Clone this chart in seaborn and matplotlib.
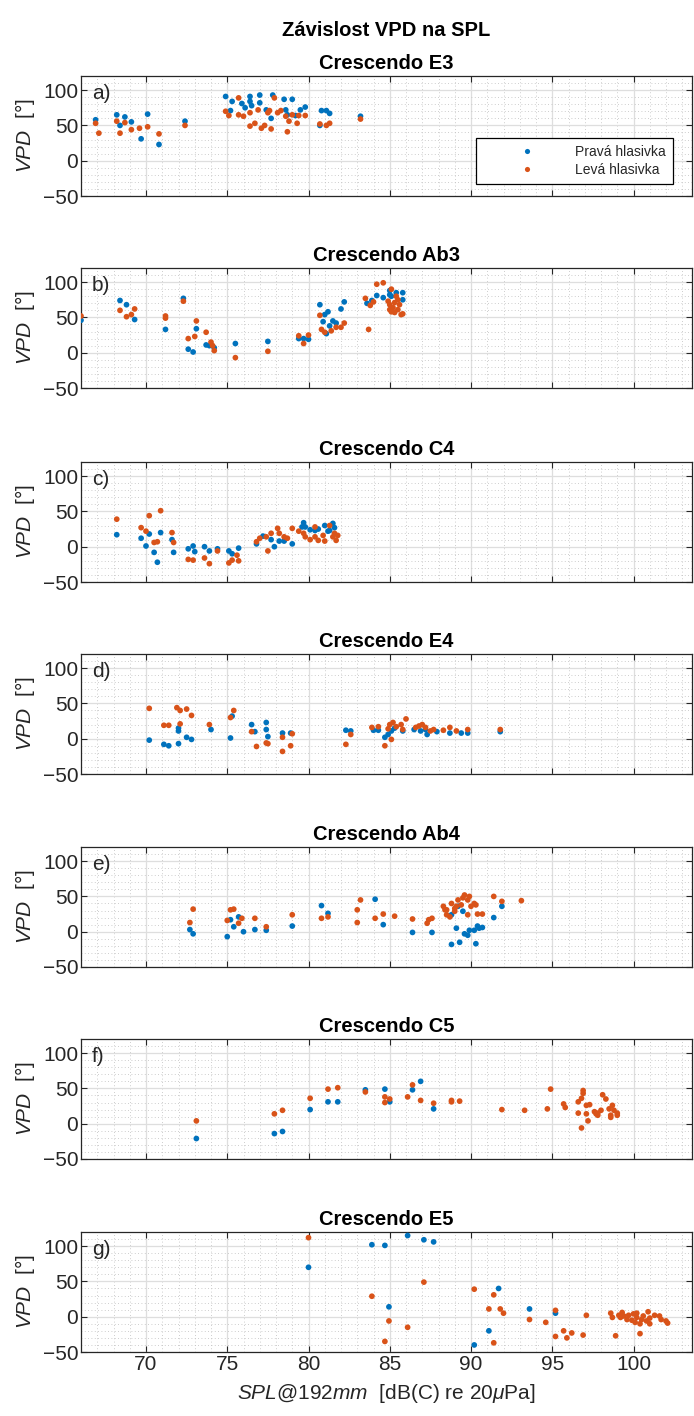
import matplotlib
matplotlib.use("Agg")
import numpy as np
import pandas as pd
import seaborn as sns
import matplotlib.pyplot as plt
from matplotlib.ticker import MultipleLocator

# ---------------- data (SPL [dB], VPD [deg]) ----------------
panels = ["a", "b", "c", "d", "e", "f", "g"]
titles = ["Crescendo E3", "Crescendo Ab3", "Crescendo C4", "Crescendo E4",
          "Crescendo Ab4", "Crescendo C5", "Crescendo E5"]
series_names = ["Pravá hlasivka", "Levá hlasivka"]
x_ticks = [70, 75, 80, 85, 90, 95, 100]
y_ticks = [-50, 0, 50, 100]

a_prava = [(66.9, 58), (68.2, 65), (68.4, 50), (68.7, 62), (69.1, 55), (69.7, 31), (70.1, 66),
           (70.8, 23), (72.4, 56), (74.9, 91), (75.3, 84), (75.2, 71), (75.9, 81), (76.1, 75),
           (76.4, 91), (76.4, 84), (76.5, 78), (77.0, 93), (77.0, 82), (77.4, 72), (77.8, 93),
           (77.7, 60), (78.5, 87), (78.6, 72), (79.0, 87), (78.7, 65), (79.2, 64), (79.5, 72),
           (79.8, 76), (80.8, 71), (81.1, 71), (81.3, 67), (80.7, 50), (83.2, 63)]
a_leva = [(66.9, 53), (67.1, 39), (68.2, 56), (68.4, 39), (68.7, 54), (69.1, 44), (69.6, 46),
          (70.1, 48), (70.8, 38), (72.4, 50), (74.9, 70), (75.1, 64), (75.7, 89), (75.7, 65),
          (76.0, 63), (76.4, 68), (76.4, 49), (76.7, 53), (76.9, 72), (77.1, 46), (77.3, 50),
          (77.5, 68), (77.7, 45), (77.9, 89), (78.3, 71), (78.6, 63), (78.8, 56), (79.0, 65),
          (79.3, 53), (79.4, 64), (79.8, 64), (78.7, 41), (80.7, 52), (81.1, 50), (81.3, 53),
          (83.2, 59), (77.6, 71), (78.1, 68)]

b_prava = [(66.0, 46), (68.4, 74), (68.8, 68), (69.3, 47), (71.2, 33), (72.3, 77), (72.6, 5),
           (72.9, 1), (73.1, 34), (73.7, 11), (73.9, 10), (74.2, 7), (75.5, 13), (77.5, 16),
           (79.4, 20), (79.7, 20), (80.0, 19), (80.7, 68), (81.0, 54), (81.2, 58), (81.1, 27),
           (81.3, 38), (81.5, 45), (81.7, 42), (82.0, 62), (82.2, 72), (80.9, 44), (83.6, 70),
           (84.2, 81), (84.6, 78), (85.0, 88), (85.1, 80), (85.4, 85), (85.8, 85), (85.8, 75),
           (85.0, 82), (83.9, 74)]
b_leva = [(66.0, 52), (68.4, 60), (68.8, 51), (69.1, 54), (69.3, 62), (71.2, 52), (71.2, 49),
          (72.3, 73), (72.6, 20), (73.0, 23), (73.1, 45), (73.7, 29), (74.0, 15), (74.1, 10),
          (74.2, 3), (75.5, -7), (77.5, 2), (79.4, 24), (79.7, 13), (80.0, 25), (80.7, 53),
          (80.8, 33), (81.0, 29), (81.4, 31), (81.7, 36), (82.0, 36), (82.2, 42), (83.5, 77),
          (83.7, 33), (83.8, 67), (84.0, 72), (84.2, 97), (84.6, 99), (84.9, 73), (85.1, 90),
          (85.0, 61), (85.3, 57), (85.4, 80), (85.5, 61), (85.6, 68), (85.7, 54), (85.8, 55),
          (85.0, 68), (85.3, 71), (85.2, 64), (85.5, 75), (85.1, 58)]

c_prava = [(68.2, 17), (69.7, 12), (70.0, 1), (70.2, 18), (70.5, -8), (70.7, -22), (70.9, 20),
           (71.6, 10), (71.7, -8), (72.6, -3), (72.9, 1), (73.0, -7), (73.6, 0), (73.9, -6),
           (74.4, -3), (75.1, -6), (75.3, -10), (75.7, -2), (76.8, 4), (77.2, 15), (77.9, 0),
           (78.5, 8), (79.0, 4), (79.6, 28), (79.7, 34), (80.1, 24), (80.4, 23), (80.6, 25),
           (81.0, 30), (81.3, 23), (81.5, 33), (81.2, 22), (81.6, 27), (79.8, 28), (78.2, 8),
           (77.7, 10)]
c_leva = [(68.2, 39), (69.7, 27), (70.0, 22), (70.2, 44), (70.5, 6), (70.7, 7), (70.9, 51),
          (71.6, 20), (71.7, 6), (72.6, -18), (72.9, -19), (73.6, -16), (73.9, -24), (74.4, -6),
          (75.1, -23), (75.3, -19), (75.6, -12), (75.7, -20), (76.8, 7), (77.0, 12), (77.4, 14),
          (77.5, -6), (77.7, 19), (78.1, 26), (78.2, 19), (78.5, 14), (78.7, 12), (79.0, 26),
          (79.4, 22), (79.7, 19), (79.8, 14), (80.1, 10), (80.4, 14), (80.4, 28), (80.6, 9),
          (80.9, 16), (81.0, 8), (81.3, 30), (81.5, 14), (81.6, 19), (81.7, 9), (81.8, 16)]

d_prava = [(70.2, -2), (71.1, -8), (71.4, -10), (72.0, 15), (72.0, 11), (72.0, -7), (72.5, 2),
           (72.8, -1), (74.0, 13), (75.2, 1), (75.3, 32), (76.5, 20), (76.7, 10), (77.4, 23),
           (77.4, 13), (77.5, 3), (78.4, 8), (78.9, 8), (82.3, 12), (82.6, 11), (84.0, 12),
           (84.3, 12), (84.7, 2), (84.9, 6), (85.1, 11), (85.3, 15), (85.8, 11), (86.5, 13),
           (86.9, 11), (87.2, 13), (87.9, 10), (88.7, 8), (89.4, 8), (89.8, 8), (91.8, 10),
           (87.3, 6)]
d_leva = [(70.2, 43), (71.1, 19), (71.4, 19), (71.9, 44), (72.1, 40), (72.1, 21), (72.5, 42),
          (72.8, 33), (73.9, 20), (75.2, 30), (75.4, 40), (76.5, 10), (76.8, -11), (77.4, -6),
          (77.5, -7), (78.4, -18), (78.4, 2), (78.9, -10), (79.0, 7), (82.3, -8), (82.6, 6),
          (83.9, 16), (84.3, 17), (84.7, -10), (84.9, 14), (85.0, 20), (85.1, -1), (85.2, 23),
          (85.4, 17), (85.7, 20), (85.8, 13), (86.0, 28), (86.6, 16), (86.8, 18), (87.0, 20),
          (87.2, 16), (87.5, 11), (87.7, 13), (88.3, 12), (88.7, 16), (89.1, 11), (89.8, 13),
          (91.8, 13)]

e_prava = [(72.7, 3), (72.9, -3), (75.0, -7), (75.2, 17), (75.4, 7), (75.7, 21), (76.0, 0),
           (76.7, 3), (77.4, 2), (79.0, 8), (80.8, 37), (81.2, 26), (84.1, 46), (84.6, 10),
           (86.4, -1), (87.6, -1), (88.8, 24), (89.1, 5), (88.8, -18), (89.3, -15), (89.6, -3),
           (89.8, -5), (89.9, 2), (90.2, 2), (90.3, -17), (90.4, 8), (90.5, 5), (90.7, 6),
           (91.4, 20), (91.9, 36), (89.2, 36), (89.5, 29)]
e_leva = [(72.7, 13), (72.9, 32), (75.0, 16), (75.2, 31), (75.4, 32), (75.7, 12), (75.9, 19),
          (76.7, 19), (77.4, 7), (79.0, 24), (80.8, 19), (81.2, 21), (83.0, 31), (83.0, 13),
          (83.2, 45), (84.1, 19), (84.6, 25), (85.3, 22), (86.4, 18), (87.3, 12), (87.4, 17),
          (87.6, 19), (88.3, 36), (88.5, 31), (88.7, 21), (88.8, 40), (89.0, 29), (89.1, 36),
          (89.2, 45), (89.4, 38), (89.5, 48), (89.6, 52), (89.8, 45), (89.8, 24), (89.9, 50),
          (90.0, 36), (90.2, 40), (90.3, 38), (90.4, 25), (90.7, 25), (91.4, 50), (91.9, 43),
          (93.1, 44), (88.5, 24), (88.4, 31), (89.0, 33)]

f_prava = [(73.1, -21), (77.9, -14), (78.4, -11), (80.1, 20), (81.2, 31), (81.8, 31), (83.5, 48),
           (84.7, 49), (85.0, 31), (86.4, 48), (86.9, 60), (87.7, 21)]
f_leva = [(73.1, 4), (77.9, 14), (78.4, 19), (80.1, 36), (81.2, 49), (81.8, 51), (83.5, 45),
          (84.7, 38), (84.7, 30), (85.0, 35), (86.1, 38), (86.4, 55), (86.9, 33), (87.7, 29),
          (88.8, 33), (89.3, 32), (88.8, 31), (91.9, 20), (93.3, 19), (94.7, 21), (94.9, 49),
          (95.7, 28), (95.8, 23), (96.6, 15), (96.6, 31), (96.8, 36), (96.8, -6), (96.9, 43),
          (96.9, 47), (97.1, 26), (97.1, 14), (97.2, 4), (97.3, 27), (97.6, 17), (97.7, 14),
          (97.8, 12), (97.8, 15), (98.0, 19), (98.1, 41), (98.3, 35), (98.5, 21), (98.6, 12),
          (98.7, 26), (98.8, 19), (99.0, 12), (99.0, 15), (98.6, 9)]

g_prava = [(80.0, 70), (83.9, 102), (84.7, 101), (84.95, 14), (86.1, 115), (87.1, 109),
           (87.7, 106), (90.2, -40), (91.1, -20), (91.7, 40), (93.6, 11), (95.2, 5)]
g_leva = [(80.0, 112), (83.9, 29), (84.7, -35), (84.95, -6), (86.1, -15), (87.1, 49), (90.2, 39),
          (91.1, 11), (91.4, 31), (91.4, -37), (91.8, 11), (92.0, 5), (93.6, -4), (94.6, -8),
          (95.2, 9), (95.2, -28), (95.7, -20), (95.9, -30), (96.2, -23), (96.9, -26), (97.1, 2),
          (98.6, 5), (98.7, -1), (98.9, -27), (99.1, 2), (99.2, -1), (99.3, 6), (99.4, 1),
          (99.6, -4), (99.7, 2), (99.9, -5), (100.0, 4), (100.1, -8), (100.2, -1), (100.2, 5),
          (100.4, -10), (100.4, -24), (100.5, -4), (100.6, 1), (100.8, -6), (100.9, 7),
          (101.0, -10), (101.0, -2), (101.3, 2), (101.6, 1), (101.7, -4), (102.0, -6), (102.1, -9)]

prava_all = [a_prava, b_prava, c_prava, d_prava, e_prava, f_prava, g_prava]
leva_all = [a_leva, b_leva, c_leva, d_leva, e_leva, f_leva, g_leva]

rows = []
for p, pr, lv in zip(panels, prava_all, leva_all):
    for x, y in pr:
        rows.append((p, series_names[0], x, y))
    for x, y in lv:
        rows.append((p, series_names[1], x, y))
df = pd.DataFrame(rows, columns=["panel", "strana", "spl", "vpd"])

# ---------------- styling ----------------
sns.set_theme(style="ticks")
plt.rcParams["font.family"] = ["Liberation Sans", "DejaVu Sans"]
plt.rcParams["mathtext.fontset"] = "custom"
plt.rcParams["mathtext.it"] = "Liberation Sans:italic"
plt.rcParams["mathtext.rm"] = "Liberation Sans"

BLUE = "#0072BD"
ORANGE = "#D95319"
DARK = "#262626"

W, H = 694, 1416
fig = plt.figure(figsize=(W / 100, H / 100), dpi=100)

left_px, right_px = 81, 692
tops_px = [76, 268, 462, 654, 847, 1039, 1232]
ax_h_px = 120

axes = []
for i, (p, t, top) in enumerate(zip(panels, titles, tops_px)):
    ax = fig.add_axes([left_px / W, 1 - (top + ax_h_px) / H,
                       (right_px - left_px) / W, ax_h_px / H])
    sub = df[df.panel == p]
    sns.scatterplot(data=sub, x="spl", y="vpd", hue="strana", hue_order=series_names,
                    palette=[BLUE, ORANGE], s=17, linewidth=0, ax=ax,
                    legend=(p == "a"), zorder=3)
    ax.set_xlim(66.0, 103.6)
    ax.set_ylim(-50, 120)
    ax.set_xticks(x_ticks)
    ax.set_yticks(y_ticks)
    ax.xaxis.set_minor_locator(MultipleLocator(1))
    ax.yaxis.set_minor_locator(MultipleLocator(10))
    ax.grid(which="major", color="#dedede", lw=0.9, ls="-", zorder=0)
    ax.grid(which="minor", color="#bdbdbd", lw=0.6, ls=(0, (1, 3)), zorder=0)
    ax.set_axisbelow(True)
    ax.tick_params(which="major", direction="in", top=True, right=True, length=4,
                   width=0.8, color=DARK, labelsize=15, labelcolor=DARK, pad=2)
    ax.tick_params(which="minor", length=0)
    for s in ax.spines.values():
        s.set_color(DARK)
        s.set_linewidth(0.9)
    ax.set_title(t, fontsize=14.5, fontweight="bold", color="black", pad=5)
    ax.set_ylabel(r"$\mathit{VPD}$  [°]", fontsize=15, color=DARK)
    ax.yaxis.set_label_coords(-0.072, 0.5)
    ax.text(0.018, 0.93, p + ")", transform=ax.transAxes, fontsize=15,
            va="top", ha="left", color=DARK)
    if i < len(panels) - 1:
        ax.tick_params(labelbottom=False)
        ax.set_xlabel("")
    else:
        ax.set_xlabel(r"$\mathit{SPL@192mm}$  [dB(C) re 20$\mathit{\mu}$Pa]",
                      fontsize=15, color=DARK)
        ax.xaxis.set_label_coords(0.5, -0.25)
    if p == "a":
        handles, labels = ax.get_legend_handles_labels()
        leg = ax.legend(handles, labels, loc="lower right", bbox_to_anchor=(0.969, 0.10),
                        fontsize=10, frameon=True, fancybox=False, edgecolor="black",
                        framealpha=1, handlelength=6.3, handletextpad=0.35,
                        borderpad=0.5, labelspacing=0.3, borderaxespad=0,
                        markerscale=0.9)
        leg.get_frame().set_linewidth(0.9)
        for txt in leg.get_texts():
            txt.set_color(DARK)
    axes.append(ax)

fig.text((left_px + right_px) / 2 / W, 1 - 30 / H, "Závislost VPD na SPL",
         fontsize=14.5, fontweight="bold", ha="center", va="center", color="black")

fig.savefig("out.png", dpi=100)
